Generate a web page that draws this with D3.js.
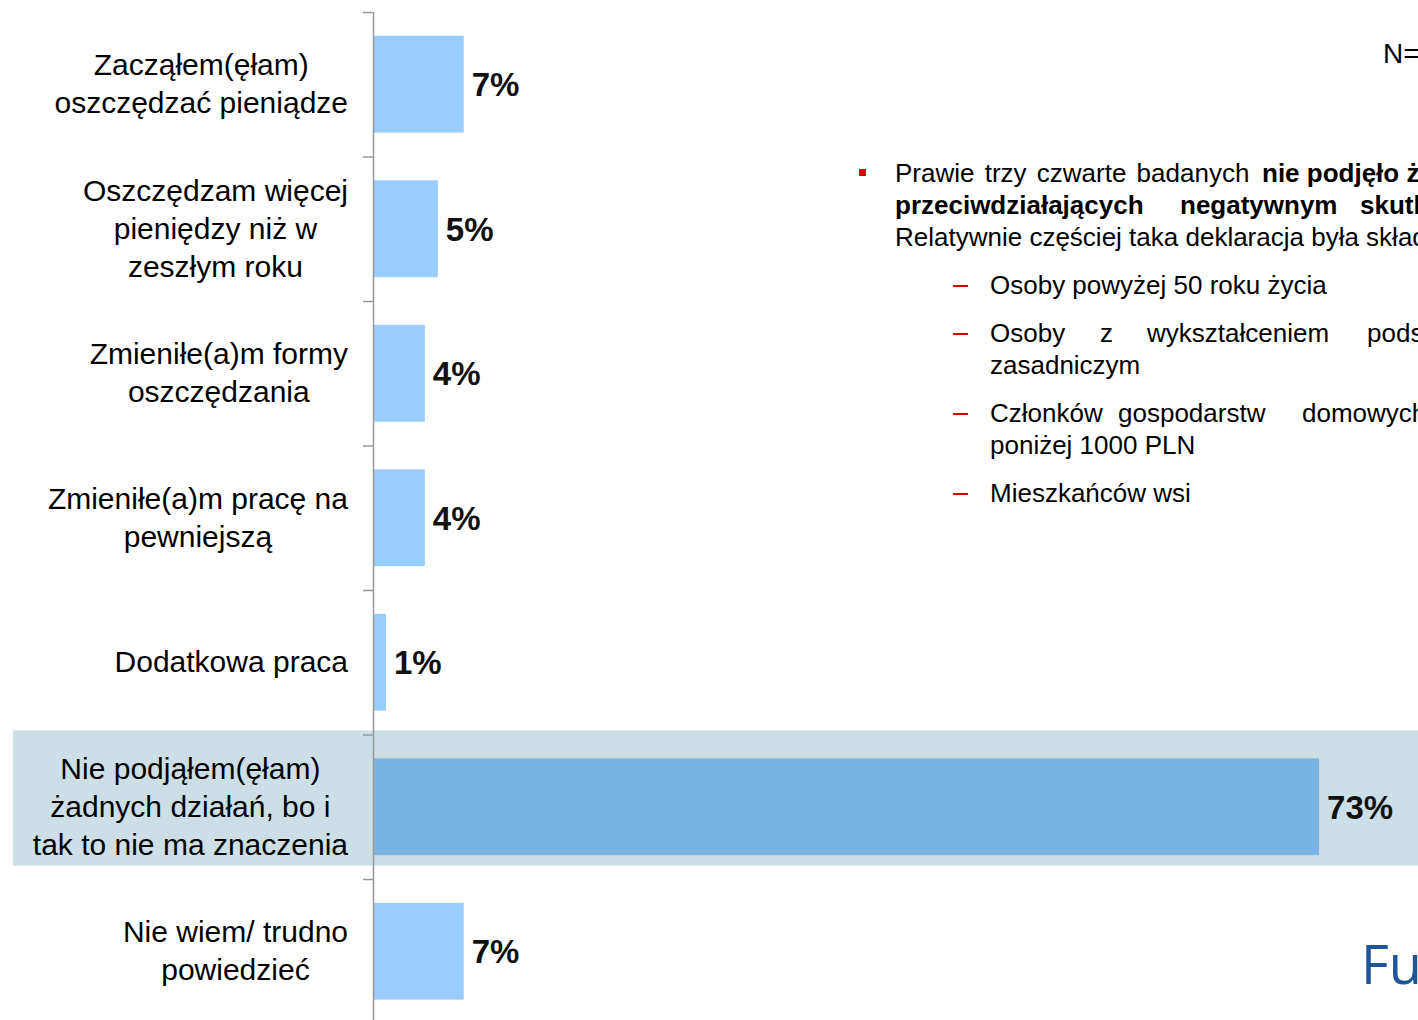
<!DOCTYPE html>
<html><head><meta charset="utf-8">
<script src="https://cdn.jsdelivr.net/npm/d3@7"></script>
<style>body{margin:0;background:#fff;overflow:hidden}svg{display:block}</style>
</head><body><svg id="c" width="1418" height="1020"></svg>
<script>
const categories = [
  ["Zacząłem(ęłam)", "oszczędzać pieniądze"],
  ["Oszczędzam więcej", "pieniędzy niż w", "zeszłym roku"],
  ["Zmieniłe(a)m formy", "oszczędzania"],
  ["Zmieniłe(a)m pracę na", "pewniejszą"],
  ["Dodatkowa praca"],
  ["Nie podjąłem(ęłam)", "żadnych działań, bo i", "tak to nie ma znaczenia"],
  ["Nie wiem/ trudno", "powiedzieć"]
];
const values = [7, 5, 4, 4, 1, 73, 7];
const valueLabels = ["7%", "5%", "4%", "4%", "1%", "73%", "7%"];
const highlightIndex = 5;

const svg = d3.select("#c");
const font = "Arial, 'Liberation Sans', sans-serif";
const ids = d3.range(categories.length);
const y = d3.scaleBand().domain(ids).range([12, 12 + 7 * 144.5]).paddingInner(0.33).paddingOuter(0.165);
const x = d3.scaleLinear().domain([0, 100]).range([373, 373 + 1296]);
const step = y.step();
const bandStart = i => y(i) - (step - y.bandwidth()) / 2;

// highlight band
svg.append("rect").attr("x", 13).attr("width", 1418)
  .attr("y", bandStart(highlightIndex) - 4).attr("height", 135)
  .attr("fill", "#CCDFE6");

// bars
svg.selectAll("rect.bar").data(ids).enter().append("rect").attr("class", "bar")
  .attr("x", x(0)).attr("y", i => y(i)).attr("height", y.bandwidth())
  .attr("width", i => x(values[i]) - x(0))
  .attr("fill", i => i === highlightIndex ? "#7AB4E3" : "#99CCFF");

// axis line and ticks
svg.append("line").attr("x1", 373.5).attr("x2", 373.5).attr("y1", 12).attr("y2", 1020)
  .attr("stroke", "#999").attr("stroke-width", 1.5);
svg.selectAll("line.tick").data(ids).enter().append("line")
  .attr("x1", 363).attr("x2", 373).attr("y1", i => bandStart(i) + 0.5).attr("y2", i => bandStart(i) + 0.5)
  .attr("stroke", "#999").attr("stroke-width", 1.5);

// category labels (centered lines, block right-aligned)
const lh = 38;
ids.forEach(i => {
  const lines = categories[i];
  const g = svg.append("text").attr("font-family", font).attr("font-size", 30).attr("fill", "#000")
    .attr("text-anchor", "middle");
  const cy = y(i) + y.bandwidth() / 2;
  const tspans = lines.map((l, k) => g.append("tspan").text(l)
    .attr("y", cy + (k - (lines.length - 1) / 2) * lh + 10));
  const maxW = d3.max(tspans, t => t.node().getComputedTextLength());
  tspans.forEach(t => t.attr("x", 348 - maxW / 2));
});

// value labels
svg.selectAll("text.val").data(ids).enter().append("text").attr("class", "val")
  .attr("x", i => x(values[i]) + 8).attr("y", i => y(i) + y.bandwidth() / 2 + 12)
  .attr("font-family", font).attr("font-size", 33).attr("font-weight", "bold").attr("fill", "#111")
  .text(i => valueLabels[i]);

// N=
svg.append("text").attr("x", 1383).attr("y", 63).attr("font-family", font).attr("font-size", 28).text("N=");

// bullet text
const fs = 26;
svg.append("rect").attr("x", 859).attr("y", 169).attr("width", 7).attr("height", 7).attr("fill", "#E00000");
const t1 = svg.append("text").attr("font-family", font).attr("font-size", fs).attr("y", 182);
t1.append("tspan").attr("x", 895).attr("word-spacing", 3).text("Prawie trzy czwarte badanych");
t1.append("tspan").attr("x", 1262).attr("font-weight", "bold").text("nie podjęło żadnych działań");
const t2 = svg.append("text").attr("font-family", font).attr("font-size", fs).attr("font-weight", "bold").attr("y", 214);
[["przeciwdziałających", 895], ["negatywnym", 1180], ["skutkom", 1360]].forEach(([w, px]) => t2.append("tspan").attr("x", px).text(w));
svg.append("text").attr("font-family", font).attr("font-size", fs).attr("x", 895).attr("y", 246)
  .text("Relatywnie częściej taka deklaracja była składana przez:");

const subs = [
  { y: 294, lines: [[["Osoby powyżej 50 roku życia", 990]]] },
  { y: 342, lines: [[["Osoby", 990], ["z", 1100], ["wykształceniem", 1147], ["podstawowym", 1367]], [["zasadniczym", 990]]] },
  { y: 422, lines: [[["Członków", 990], ["gospodarstw", 1118], ["domowych", 1302]], [["poniżej 1000 PLN", 990]]] },
  { y: 502, lines: [[["Mieszkańców wsi", 990]]] }
];
subs.forEach(s => {
  svg.append("rect").attr("x", 953).attr("y", s.y - 9).attr("width", 15).attr("height", 2).attr("fill", "#E00000");
  s.lines.forEach((line, k) => {
    const t = svg.append("text").attr("font-family", font).attr("font-size", fs).attr("y", s.y + k * 32);
    line.forEach(([w, px]) => t.append("tspan").attr("x", px).text(w));
  });
});

// logo fragment
svg.append("text").attr("x", 1361).attr("y", 984).attr("font-family", "'Open Sans', sans-serif")
  .attr("font-size", 54).attr("fill", "#1F5597").text("Fu");
</script></body></html>
